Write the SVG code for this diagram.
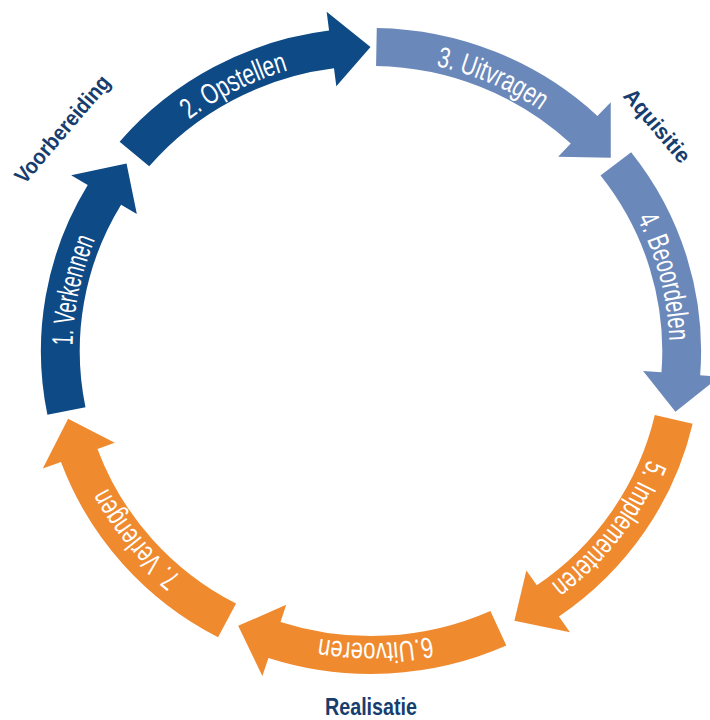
<svg xmlns="http://www.w3.org/2000/svg" width="710" height="720" viewBox="0 0 710 720">
<style>
.dark{fill:#0e4a86}
.light{fill:#6b88ba}
.orange{fill:#ef8a2f}
.step{font-family:"Liberation Sans",Arial,sans-serif;font-size:29px;fill:#ffffff}
.phase{font-family:"Liberation Sans",Arial,sans-serif;font-weight:bold;fill:#163d6e}
</style>
<defs>
<path id="arrow" d="M 285 0 L 323 0 A 323 323 0 0 1 238.9 217.4 L 252.9 230.2 L 197.4 231.2 L 197.5 179.7 L 210.8 191.8 A 285 285 0 0 0 285 0 Z"/>
<path id="tp" d="M 292 0 A 292 292 0 0 1 206.5 206.5"/>
</defs>
<rect width="710" height="720" fill="#ffffff"/>
<g id="cycle" transform="translate(371,351) scale(1.022,1)">
<g id="step1" transform="rotate(168.6)">
<use href="#arrow" class="dark"/>
<text class="step" text-anchor="middle"><textPath href="#tp" startOffset="118" textLength="109" lengthAdjust="spacingAndGlyphs">1. Verkennen</textPath></text>
</g>
<g id="step2" transform="rotate(220.4)">
<use href="#arrow" class="dark"/>
<text class="step" text-anchor="middle"><textPath href="#tp" startOffset="116" textLength="109" lengthAdjust="spacingAndGlyphs">2. Opstellen</textPath></text>
</g>
<g id="step3" transform="rotate(271)">
<use href="#arrow" class="light"/>
<text class="step" text-anchor="middle"><textPath href="#tp" startOffset="115" textLength="112" lengthAdjust="spacingAndGlyphs">3. Uitvragen</textPath></text>
</g>
<g id="step4" transform="rotate(322)">
<use href="#arrow" class="light"/>
<text class="step" text-anchor="middle"><textPath href="#tp" startOffset="119.8" textLength="127" lengthAdjust="spacingAndGlyphs">4. Beoordelen</textPath></text>
</g>
<g id="step5" transform="rotate(13)">
<use href="#arrow" class="orange"/>
<text class="step" text-anchor="middle"><textPath href="#tp" startOffset="124" textLength="159" lengthAdjust="spacingAndGlyphs">5. Implementeren</textPath></text>
</g>
<g id="step6" transform="rotate(65.8)">
<use href="#arrow" class="orange"/>
<text class="step" text-anchor="middle"><textPath href="#tp" startOffset="119" textLength="110" lengthAdjust="spacingAndGlyphs">6.Uitvoeren</textPath></text>
</g>
<g id="step7" transform="rotate(117.6)">
<use href="#arrow" class="orange"/>
<text class="step" text-anchor="middle"><textPath href="#tp" startOffset="118" textLength="115" lengthAdjust="spacingAndGlyphs">7. Verlengen</textPath></text>
</g>
</g>
<g id="phases">
<text id="voorbereiding" class="phase" font-size="22" text-anchor="middle" transform="translate(68,134) rotate(-49.5)" textLength="134" lengthAdjust="spacingAndGlyphs">Voorbereiding</text>
<text id="aquisitie" class="phase" font-size="22" text-anchor="middle" transform="translate(651.5,130.5) rotate(49.6)" textLength="90" lengthAdjust="spacingAndGlyphs">Aquisitie</text>
<text id="realisatie" class="phase" font-size="24" text-anchor="middle" x="371" y="715" textLength="92" lengthAdjust="spacingAndGlyphs">Realisatie</text>
</g>
</svg>
